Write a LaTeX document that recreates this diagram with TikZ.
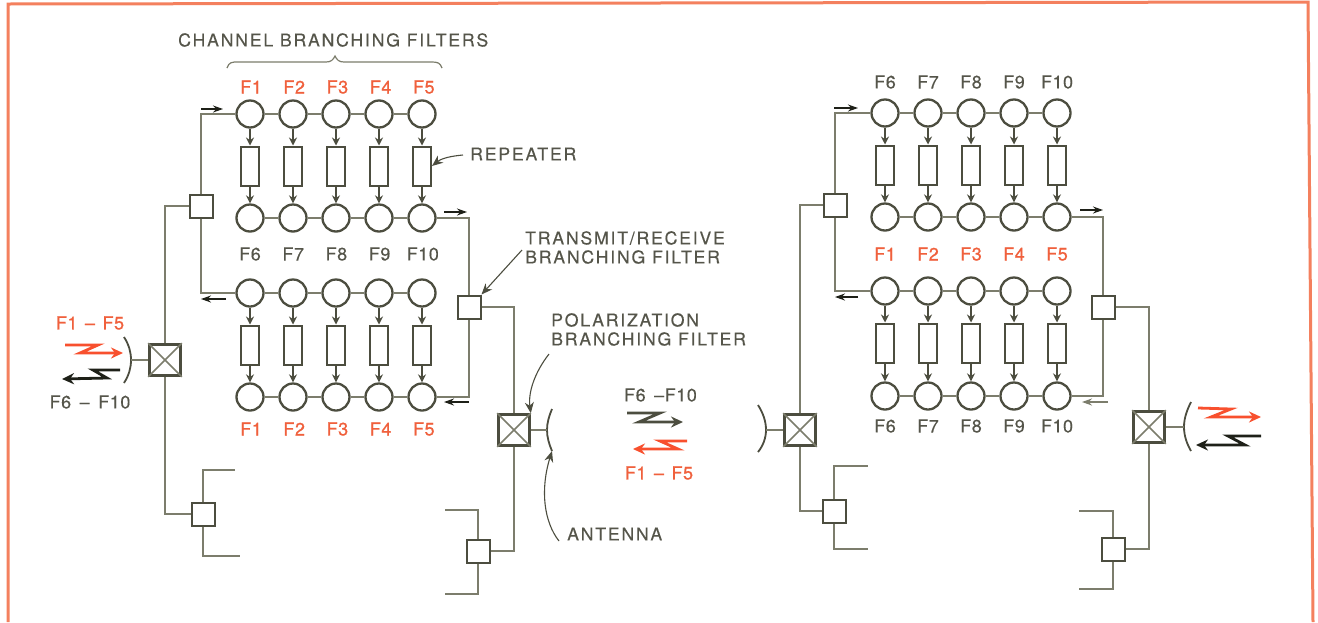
\documentclass[tikz,border=0pt]{standalone}
\usepackage{fontspec}
\setmainfont{TeX Gyre Heros}
\newfontfamily\lblfont[LetterSpace=10,FakeBold=0.25]{TeX Gyre Heros}
\newfontfamily\chfont[LetterSpace=3,FakeBold=0.25]{TeX Gyre Heros}
\newfontfamily\chbfont[LetterSpace=3,FakeBold=0.9]{TeX Gyre Heros}
\usetikzlibrary{arrows.meta,decorations.pathreplacing}
\definecolor{ink}{HTML}{4C4D3F}
\definecolor{wire}{HTML}{7C7D6C}
\definecolor{txt}{HTML}{55554A}
\definecolor{hot}{HTML}{F0603C}
\definecolor{frame}{HTML}{F4805E}
\definecolor{redzig}{HTML}{F8502E}
\definecolor{blk}{HTML}{1E2018}
\tikzset{
  x=1pt,y=-1pt,
  wireline/.style={draw=wire,line width=1.5pt},
  flowline/.style={draw=ink,line width=1.4pt,-{Stealth[length=8pt,width=8pt]}},
  ring/.style={circle,draw=ink,line width=2.3pt,minimum size=27pt,inner sep=0pt,fill=white},
  rep/.style={rectangle,draw=ink,line width=2pt,minimum width=18pt,minimum height=39pt,inner sep=0pt,fill=white},
  tbox/.style={rectangle,draw=ink,line width=2pt,minimum size=23pt,inner sep=0pt,fill=white},
  xbox/.style={rectangle,draw=ink,line width=2.6pt,minimum size=31pt,inner sep=0pt,fill=white},
  lbl/.style={text=txt,inner sep=0pt,font=\lblfont\fontsize{17.7}{20}\selectfont},
  ch/.style={text=txt,inner sep=0pt,font=\chfont\fontsize{18}{20}\selectfont},
  chr/.style={text=hot,inner sep=0pt,font=\chbfont\fontsize{18}{20}\selectfont},
  dish/.style={draw=ink,line width=1.8pt},
  leader/.style={draw=ink,line width=1.1pt,-{Stealth[length=11pt,width=9pt]}},
  tick/.style={draw=blk,line width=1.4pt,-{Stealth[length=10pt,width=7pt]}},
  zig/.style={line width=2.8pt,line join=miter,-{Stealth[length=12pt,width=11pt]}},
}
\newcommand{\bank}[5]{%
  \foreach \i in {1,...,5}{
    \pgfmathsetmacro{\xx}{#2+(\i-1)*43}
    \node[ring] (#1t\i) at (\xx,#3) {};
    \node[ring] (#1b\i) at (\xx,#4) {};
    \node[rep] (#1r\i) at (\xx,#5) {};
  }
  \foreach \i/\j in {1/2,2/3,3/4,4/5}{
    \draw[wireline] (#1t\i) -- (#1t\j);
    \draw[wireline] (#1b\i) -- (#1b\j);
  }
}
\newcommand{\flowdown}[1]{\foreach \i in {1,...,5}{
  \draw[flowline] (#1t\i) -- (#1r\i);
  \draw[flowline] (#1r\i) -- (#1b\i);}}
\newcommand{\flowup}[1]{\foreach \i in {1,...,5}{
  \draw[flowline] (#1b\i) -- (#1r\i);
  \draw[flowline] (#1r\i) -- (#1t\i);}}
\newcommand{\crossed}[1]{
  \draw[wireline] (#1.north west) -- (#1.south east);
  \draw[wireline] (#1.north east) -- (#1.south west);}
\begin{document}
\begin{tikzpicture}
\useasboundingbox (0,0) rectangle (1318,622);
\fill[white] (0,0) rectangle (1318,622);
% frame
\draw[frame,line width=3pt] (8,622) -- (8,4) -- (1308,2) -- (1313,622);

% ---------- left station
\bank{A}{250}{114}{218}{166}
\flowdown{A}
\bank{B}{250}{397}{293}{345}
\flowup{B}
\node[tbox] (s1) at (201,206) {};
\node[tbox] (t1) at (469,307) {};
\node[xbox] (x1) at (165,360) {};
\crossed{x1}
\node[tbox] (d1) at (203,514) {};
\draw[wireline] (s1.north) |- (At1.west);
\draw[wireline] (s1.south) |- (Bb1.west);
\draw[wireline] (s1.west) -| (x1.north);
\draw[wireline] (Ab5.east) -| (t1.north);
\draw[wireline] (Bt5.east) -| (t1.south);
\draw[wireline] (x1.south) |- (d1.west);
\coordinate (d1a) at (235,470); \coordinate (d1b) at (240,556);
\draw[wireline] (d1.north) |- (d1a);
\draw[wireline] (d1.south) |- (d1b);
\coordinate (a1t) at (124,337); \coordinate (a1m) at (131,360); \coordinate (a1b) at (124,383);
\draw[dish] (a1t) .. controls (129,345) and (131,352) .. (a1m) .. controls (131,368) and (129,375) .. (a1b);
\draw[wireline] (a1m) -- (x1.west);

% ---------- middle link
\node[xbox] (x2) at (514,430) {};
\crossed{x2}
\node[tbox] (d2) at (478,551) {};
\draw[wireline] (t1.east) -| (x2.north);
\draw[wireline] (x2.south) |- (d2.east);
\coordinate (d2a) at (445,510); \coordinate (d2b) at (445,594);
\draw[wireline] (d2.north) |- (d2a);
\draw[wireline] (d2.south) |- (d2b);
\coordinate (a2t) at (552,409); \coordinate (a2m) at (547,430); \coordinate (a2b) at (552,451);
\draw[dish] (a2t) .. controls (549,416) and (547,423) .. (a2m) .. controls (547,437) and (549,444) .. (a2b);
\draw[wireline] (x2.east) -- (a2m);

\node[xbox] (x3) at (800,430) {};
\crossed{x3}
\node[tbox] (s3) at (835,205) {};
\node[tbox] (d3) at (834,511) {};
\coordinate (a3t) at (758,405); \coordinate (a3m) at (766,430); \coordinate (a3b) at (758,452);
\draw[dish] (a3t) .. controls (763,413) and (766,421) .. (a3m) .. controls (766,438) and (763,446) .. (a3b);
\draw[wireline] (a3m) -- (x3.west);
\draw[wireline] (s3.west) -| (x3.north);
\draw[wireline] (x3.south) |- (d3.west);
\coordinate (d3a) at (868,466); \coordinate (d3b) at (868,549);
\draw[wireline] (d3.north) |- (d3a);
\draw[wireline] (d3.south) |- (d3b);

% ---------- right station
\bank{C}{885}{113}{217}{165}
\flowdown{C}
\bank{D}{885}{396}{291}{343}
\flowup{D}
\node[tbox] (t4) at (1103,307) {};
\node[xbox] (x4) at (1149,427) {};
\crossed{x4}
\node[tbox] (d4) at (1113,549) {};
\draw[wireline] (s3.north) |- (Ct1.west);
\draw[wireline] (s3.south) |- (Db1.west);
\draw[wireline] (Cb5.east) -| (t4.north);
\draw[wireline] (Dt5.east) -| (t4.south);
\draw[wireline] (t4.east) -| (x4.north);
\draw[wireline] (x4.south) |- (d4.east);
\coordinate (d4a) at (1079,511); \coordinate (d4b) at (1079,589);
\draw[wireline] (d4.north) |- (d4a);
\draw[wireline] (d4.south) |- (d4b);
\coordinate (a4t) at (1191,402); \coordinate (a4m) at (1184,427); \coordinate (a4b) at (1191,451);
\draw[dish] (a4t) .. controls (1187,410) and (1184,418) .. (a4m) .. controls (1184,436) and (1187,444) .. (a4b);
\draw[wireline] (x4.east) -- (a4m);

% ---------- small direction arrows
\draw[tick] (201,109) -- (223,109);
\draw[tick] (444,212) -- (467,212);
\draw[tick] (226,299) -- (201,299);
\draw[tick] (469,402) -- (444,402);
\draw[tick] (834,108) -- (858,108);
\draw[tick] (1080,210) -- (1103,210);
\draw[tick] (858,297) -- (835,297);
\draw[tick,draw=wire] (1108,402) -- (1082,402);

% ---------- zigzags
\draw[zig,draw=redzig] (65,345) -- (98,345) -- (80,353) -- (123,353);
\draw[zig,draw=blk] (120,370) -- (93,370) -- (107,378) -- (62,379);
\draw[zig,draw=ink] (627,413) -- (660,413) -- (639,422) -- (683,422);
\draw[zig,draw=redzig] (687,441) -- (660,441) -- (678,449) -- (633,449);
\draw[zig,draw=redzig] (1198,408) -- (1231,409) -- (1211,417) -- (1261,417);
\draw[zig,draw=blk] (1261,436) -- (1228,436) -- (1245,445) -- (1196,445);

% ---------- channel labels
\foreach \n [count=\i] in {F1,F2,F3,F4,F5}{
  \pgfmathsetmacro{\xx}{251+(\i-1)*43.2}
  \node[chr] (la\i) at (\xx,87) {\n};
  \node[chr] (lb\i) at (\xx,429) {\n};
  \pgfmathsetmacro{\xy}{885+(\i-1)*43}
  \node[chr] (lc\i) at (\xy,254) {\n};
}
\foreach \n [count=\i] in {F6,F7,F8,F9,F10}{
  \pgfmathsetmacro{\xx}{250+(\i-1)*43.2}
  \node[ch] (ld\i) at (\xx,254) {\n};
  \pgfmathsetmacro{\xy}{885+(\i-1)*43}
  \node[ch] (le\i) at (\xy,82) {\n};
  \node[ch] (lf\i) at (\xy,426) {\n};
}
\node[chr] (lr1) at (90,323) {F1\kern2pt{} – \kern2pt{}F5};
\node[ch] (lk1) at (90,402) {F6\kern3pt{} – \kern3pt{}F10};
\node[ch] (lk2) at (660.5,395) {F6\kern3pt{} –F10};
\node[chr] (lr2) at (659,473) {F1\kern2pt{} – \kern2pt{}F5};

% ---------- annotations
\node[lbl,anchor=west] (cbf) at (178,40) {CHANNEL BRANCHING FILTERS};
\draw[wireline,line width=1.2pt] (227,68) .. controls (229,62) and (232,62) .. (238,62) -- (326,62) .. controls (331,62) and (333,60) .. (335,56) .. controls (337,60) and (339,62) .. (344,62) -- (432,62) .. controls (438,62) and (440,63) .. (442,68);
\node[lbl,anchor=west] (lrep) at (470,154) {REPEATER};
\coordinate (lrepo) at (463,155);
\draw[leader] (lrepo) .. controls (452,156) and (442,158) .. (Ar5.east);
\node[lbl,anchor=west] (ltr1) at (525,238) {TRANSMIT/RECEIVE};
\node[lbl,anchor=west] (ltr2) at (525,257) {BRANCHING FILTER};
\coordinate (ltro) at (522,250);
\draw[leader] (ltro) -- (t1.north east);
\node[lbl,anchor=west] (lpo1) at (551,320) {POLARIZATION};
\node[lbl,anchor=west] (lpo2) at (551,339) {BRANCHING FILTER};
\coordinate (lpoo) at (549,354);
\draw[leader] (lpoo) .. controls (535,372) and (528,392) .. (x2.north east);
\node[lbl,anchor=west] (lant) at (567,534) {ANTENNA};
\coordinate (lanto) at (559,541);
\draw[leader] (lanto) .. controls (544,522) and (540,490) .. (a2b);
\end{tikzpicture}
\end{document}
